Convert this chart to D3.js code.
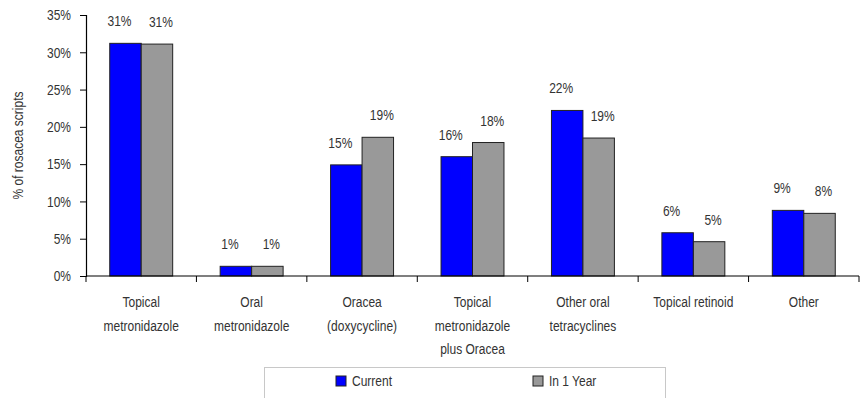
<!DOCTYPE html>
<html>
<head>
<meta charset="utf-8">
<script src="https://cdn.jsdelivr.net/npm/d3@7"></script>
<style>
  html, body { margin: 0; padding: 0; background: #fff; }
  svg { display: block; }
  text { font-family: "Liberation Sans Narrow", "Arial Narrow", "Liberation Sans", Arial, sans-serif; fill: #333; font-size: 15px; }
  /* condensed lettering: squeeze glyphs horizontally around an anchor */
  .nc { transform-box: fill-box; transform-origin: center; transform: scaleX(0.8); }
  .nr { transform-box: fill-box; transform-origin: right center; transform: scaleX(0.8); }
  .nl { transform-box: fill-box; transform-origin: left center; transform: scaleX(0.8); }
</style>
</head>
<body>
<svg id="chart" width="866" height="398"></svg>
<script>
// Rosacea prescriptions by treatment, now and expected in one year
const categories = [
  ["Topical", "metronidazole"],
  ["Oral", "metronidazole"],
  ["Oracea", "(doxycycline)"],
  ["Topical", "metronidazole", "plus Oracea"],
  ["Other oral", "tetracyclines"],
  ["Topical retinoid"],
  ["Other"]
];
const seriesNames = ["Current", "In 1 Year"];
const current = [31.2, 1.3, 14.9, 16.0, 22.2, 5.8, 8.8];
const inOneYear = [31.1, 1.3, 18.6, 17.9, 18.5, 4.6, 8.4];
const yTicks = [0, 5, 10, 15, 20, 25, 30, 35];
const colors = ["#0000ff", "#999999"];

const svg = d3.select("#chart");
const margin = { left: 86, right: 7, top: 15, bottom: 122 };
const W = 866, H = 398;
const plotW = W - margin.left - margin.right;
const plotH = H - margin.top - margin.bottom;

const g = svg.append("g").attr("transform", `translate(${margin.left},${margin.top})`);

const x = d3.scaleBand().domain(d3.range(categories.length)).range([0, plotW]);
const xs = d3.scaleBand().domain(d3.range(seriesNames.length)).range([x.bandwidth() * 0.215, x.bandwidth() * 0.785]);
const y = d3.scaleLinear().domain([0, 35]).range([plotH, 0]);

const series = [current, inOneYear];

// Bars
series.forEach((vals, si) => {
  g.append("g").selectAll("rect").data(vals).join("rect")
    .attr("x", (d, i) => x(i) + xs(si))
    .attr("y", d => y(d))
    .attr("width", xs.bandwidth())
    .attr("height", d => y(0) - y(d))
    .attr("fill", colors[si])
    .attr("stroke", "#222")
    .attr("stroke-width", 1);
});

// Value labels
const labelDx = [-6, 4];
series.forEach((vals, si) => {
  g.append("g").selectAll("text").data(vals).join("text")
    .attr("class", "nc")
    .attr("x", (d, i) => x(i) + xs(si) + xs.bandwidth() / 2 + labelDx[si])
    .attr("y", d => y(d) - 17)
    .attr("text-anchor", "middle")
    .text(d => Math.round(d) + "%");
});

// Y axis
const yAxis = d3.axisLeft(y).tickValues(yTicks).tickFormat(d => d + "%").tickSize(6).tickPadding(9);
const yg = g.append("g").call(yAxis);
yg.attr("font-family", null).attr("font-size", null);
yg.select(".domain").attr("stroke", "#000").attr("stroke-width", 1.2);
yg.selectAll(".tick line").attr("stroke", "#000");
yg.selectAll(".tick text").attr("class", "nr").attr("fill", "#333");

// X axis with ticks on category boundaries
const xg = g.append("g").attr("transform", `translate(0,${plotH})`);
xg.append("line").attr("x1", 0).attr("x2", plotW).attr("y1", 0).attr("y2", 0)
  .attr("stroke", "#000").attr("stroke-width", 1.2);
xg.selectAll("line.tk").data(d3.range(categories.length + 1)).join("line")
  .attr("class", "tk")
  .attr("x1", i => i * x.step()).attr("x2", i => i * x.step())
  .attr("y1", 0).attr("y2", 6).attr("stroke", "#000");

const catText = xg.selectAll("text.cat").data(categories).join("text")
  .attr("class", "cat nc")
  .attr("text-anchor", "middle");
catText.selectAll("tspan").data((d, i) => d.map(s => ({ s, cx: x(i) + x.bandwidth() / 2 }))).join("tspan")
  .attr("x", d => d.cx)
  .attr("y", (d, j) => 31 + j * 23.7)
  .text(d => d.s);

// Y axis title
svg.append("g")
  .attr("transform", `translate(23,${margin.top + plotH / 2}) rotate(-90)`)
  .append("text")
  .attr("class", "nc")
  .attr("text-anchor", "middle")
  .text("% of rosacea scripts");

// Legend
const lg = svg.append("g");
lg.append("rect").attr("x", 264.5).attr("y", 367.5).attr("width", 401).attr("height", 40)
  .attr("fill", "#fff").attr("stroke", "#c8c8c8");
const legendX = [336, 533];
seriesNames.forEach((name, si) => {
  lg.append("rect").attr("x", legendX[si]).attr("y", 376).attr("width", 10).attr("height", 10)
    .attr("fill", colors[si]).attr("stroke", "#222");
  lg.append("text").attr("class", "nl").attr("x", legendX[si] + 16).attr("y", 386).text(name);
});
</script>
</body>
</html>
